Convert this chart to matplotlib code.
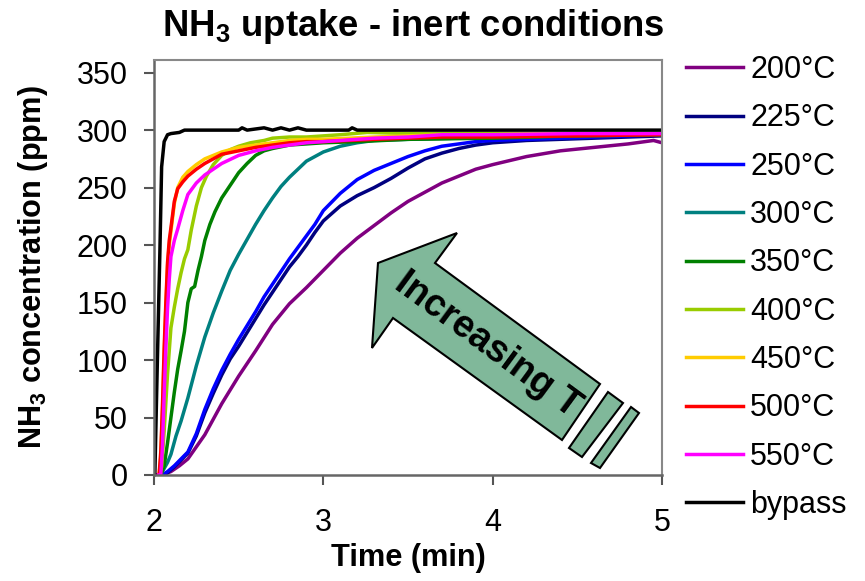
import matplotlib
matplotlib.use("Agg")
import matplotlib.pyplot as plt
from matplotlib import font_manager
from matplotlib.patches import Polygon
from matplotlib.transforms import Affine2D, IdentityTransform
import numpy as np

# --- data (time in min, NH3 in ppm) ---
t_200 = [2.00, 2.05, 2.10, 2.15, 2.20, 2.30, 2.40, 2.50, 2.60, 2.70, 2.80, 2.90, 3.00, 3.10,
         3.20, 3.30, 3.40, 3.50, 3.60, 3.70, 3.80, 3.90, 4.00, 4.20, 4.40, 4.60, 4.80, 4.95, 5.00]
c_200 = [0, 0, 3, 8, 14, 35, 62, 86, 108, 131, 149, 163, 178, 193,
         206, 217, 228, 238, 246, 254, 260, 266, 270, 277, 282, 285, 288, 291, 289]

t_225 = [2.00, 2.05, 2.08, 2.12, 2.16, 2.20, 2.25, 2.30, 2.35, 2.40, 2.45, 2.50, 2.55, 2.60,
         2.65, 2.70, 2.75, 2.80, 2.85, 2.90, 2.95, 3.00, 3.10, 3.20, 3.30, 3.40, 3.50, 3.60,
         3.70, 3.80, 3.90, 4.00, 4.20, 4.40, 4.60, 4.80, 5.00]
c_225 = [0, 0, 2, 7, 13, 19, 34, 54, 71, 87, 101, 112, 124, 136,
         148, 159, 170, 181, 190, 200, 211, 221, 234, 243, 250, 258, 267, 275,
         280, 284, 287, 289, 291, 292, 293, 294, 295]

t_250 = [2.00, 2.05, 2.08, 2.12, 2.16, 2.20, 2.25, 2.30, 2.35, 2.40, 2.45, 2.50, 2.55, 2.60,
         2.65, 2.70, 2.75, 2.80, 2.85, 2.90, 2.95, 3.00, 3.10, 3.20, 3.30, 3.40, 3.50, 3.60,
         3.70, 3.80, 3.90, 4.00, 4.20, 4.40, 4.60, 4.80, 5.00]
c_250 = [0, 0, 3, 8, 14, 20, 36, 57, 75, 91, 105, 118, 130, 142,
         155, 166, 177, 188, 198, 208, 218, 230, 245, 257, 265, 271, 277, 282,
         286, 288, 290, 291, 292, 293, 294, 295, 296]

t_300 = [2.00, 2.03, 2.05, 2.08, 2.10, 2.13, 2.16, 2.20, 2.25, 2.30, 2.35, 2.40, 2.45, 2.50,
         2.55, 2.60, 2.65, 2.70, 2.75, 2.80, 2.85, 2.90, 2.95, 3.00, 3.10, 3.20, 3.30, 3.50,
         3.80, 4.00, 4.50, 5.00]
c_300 = [0, 0, 3, 11, 18, 34, 47, 67, 95, 120, 141, 160, 178, 192,
         205, 218, 230, 241, 251, 259, 266, 273, 277, 281, 286, 289, 291, 292,
         293, 294, 295, 296]

t_350 = [2.00, 2.04, 2.06, 2.08, 2.10, 2.12, 2.14, 2.16, 2.18, 2.20, 2.22, 2.24, 2.26, 2.28,
         2.30, 2.33, 2.36, 2.40, 2.45, 2.50, 2.55, 2.60, 2.65, 2.70, 2.80, 2.90, 3.00, 3.20,
         3.50, 4.00, 4.50, 5.00]
c_350 = [0, 0, 8, 28, 50, 72, 92, 108, 125, 150, 162, 164, 178, 190,
         204, 218, 229, 241, 252, 263, 271, 278, 282, 284, 287, 288, 289, 290,
         292, 293, 295, 296]

t_400 = [2.00, 2.03, 2.045, 2.06, 2.08, 2.10, 2.12, 2.14, 2.16, 2.18, 2.20, 2.22, 2.25, 2.28,
         2.31, 2.35, 2.40, 2.45, 2.50, 2.57, 2.65, 2.70, 2.80, 2.90, 3.00, 3.10, 3.26, 3.50,
         4.00, 4.50, 5.00]
c_400 = [0, 0, 7, 38, 88, 128, 146, 162, 176, 188, 196, 213, 234, 250,
         260, 270, 278, 283, 286, 289, 291, 293, 294, 294, 295, 296, 298, 297,
         297, 297, 297]

t_450 = [2.00, 2.03, 2.04, 2.05, 2.06, 2.07, 2.08, 2.09, 2.10, 2.12, 2.14, 2.17, 2.20, 2.25,
         2.30, 2.40, 2.50, 2.60, 2.70, 2.80, 2.90, 3.00, 3.30, 3.70, 4.00, 4.50, 5.00]
c_450 = [0, 0, 15, 55, 105, 145, 182, 200, 212, 236, 250, 259, 264, 270,
         275, 281, 285, 287, 289, 291, 292, 292, 294, 296, 296, 297, 297]

t_500 = [2.00, 2.03, 2.04, 2.05, 2.06, 2.07, 2.08, 2.09, 2.10, 2.12, 2.14, 2.17, 2.20, 2.25,
         2.30, 2.40, 2.50, 2.60, 2.70, 2.80, 2.90, 3.00, 3.30, 3.70, 4.00, 4.50, 5.00]
c_500 = [0, 0, 20, 60, 110, 150, 185, 204, 215, 238, 249, 255, 260, 266,
         271, 279, 282, 285, 287, 289, 290, 290, 292, 294, 294, 295, 296]

t_550 = [2.00, 2.04, 2.05, 2.06, 2.07, 2.08, 2.09, 2.10, 2.12, 2.14, 2.17, 2.20, 2.25, 2.30,
         2.40, 2.50, 2.60, 2.70, 2.80, 2.90, 3.00, 3.10, 3.30, 3.50, 3.70, 4.00, 4.50, 5.00]
c_550 = [0, 0, 25, 70, 110, 145, 170, 190, 204, 214, 230, 244, 254, 261,
         271, 278, 282, 285, 287, 289, 290, 291, 293, 294, 296, 296, 297, 297]

t_bypass = [2.00, 2.005, 2.02, 2.035, 2.045, 2.06, 2.08, 2.10, 2.15, 2.18, 2.50, 2.52, 2.55,
            2.65, 2.70, 2.75, 2.80, 2.85, 2.90, 3.15, 3.17, 3.20, 5.00]
c_bypass = [0, 0, 100, 196, 268, 290, 296, 297, 298, 300, 300, 302, 300,
            302, 300, 302, 300, 302, 300, 300, 302, 300, 300]

labels = ["200°C", "225°C", "250°C", "300°C", "350°C", "400°C", "450°C", "500°C", "550°C", "bypass"]
colors = ["#800080", "#000080", "#0000FF", "#008080", "#008000", "#99CC00",
          "#FFCC00", "#FF0000", "#FF00FF", "#000000"]
series = [(t_200, c_200), (t_225, c_225), (t_250, c_250), (t_300, c_300), (t_350, c_350),
          (t_400, c_400), (t_450, c_450), (t_500, c_500), (t_550, c_550), (t_bypass, c_bypass)]

# fonts: narrow bold for title / axis labels if it exists
names = {f.name for f in font_manager.fontManager.ttflist}
base = "Liberation Sans" if "Liberation Sans" in names else "DejaVu Sans"
narrow = "Liberation Sans Narrow" if "Liberation Sans Narrow" in names else base
narrow_scale = 1.0 if narrow != base else 0.82

plt.rcParams["font.family"] = [base, "DejaVu Sans"]
plt.rcParams["mathtext.default"] = "regular"

fig = plt.figure(figsize=(8.65, 5.81), dpi=100)
ax = fig.add_axes([154 / 865, 1 - 475 / 581, 508 / 865, 415 / 581])

for (t, c), lab, col in zip(series, labels, colors):
    ax.plot(t, c, color=col, lw=2.5, label=lab, solid_joinstyle="round")

ax.set_xlim(2, 5)
ax.set_ylim(0, 361)
ax.set_xticks([2, 3, 4, 5])
ax.set_yticks(np.arange(0, 351, 50))
ax.tick_params(direction="out", length=7, width=1.5, colors="#555555", labelcolor="black",
               labelsize=22)
ax.tick_params(axis="x", pad=17)
ax.tick_params(axis="y", pad=12)
for side in ["left", "bottom"]:
    ax.spines[side].set_color("#666666")
    ax.spines[side].set_linewidth(1.8)
for side in ["top", "right"]:
    ax.spines[side].set_color("#888888")
    ax.spines[side].set_linewidth(1.5)

ax.set_xlabel("Time (min)", family=narrow, weight="bold", fontsize=27 * narrow_scale)
ax.xaxis.set_label_coords(0.5, -0.165)
ax.set_ylabel("NH$_3$ concentration (ppm)", family=narrow, weight="bold",
              fontsize=27 * narrow_scale)
ax.yaxis.set_label_coords(-0.205, 0.5)

fig.text(413 / 865, 1 - 27 / 581, "NH$_3$ uptake - inert conditions", family=narrow,
         weight="bold", fontsize=32 * narrow_scale, ha="center", va="center")

fig.legend(loc="upper left", bbox_to_anchor=(686 / 865, 1 - 55 / 581), frameon=False,
           fontsize=22, handlelength=1.85, handletextpad=0.25, labelspacing=0.6,
           borderpad=0, borderaxespad=0)

# "Increasing T" block arrow, drawn in image pixel coordinates (origin top left)
px = Affine2D().scale(1, -1).translate(0, 581) + IdentityTransform()
arrow = [(378, 263), (457, 233), (435, 263), (600, 384), (562, 440), (393, 318), (372, 348)]
stripe1 = [(608, 392), (623, 403), (582, 457), (569, 448)]
stripe2 = [(631, 407), (639, 413), (600, 468), (591, 463)]
for pts in (arrow, stripe1, stripe2):
    fig.patches.append(Polygon(pts, closed=True, facecolor="#80B89A", edgecolor="black",
                               lw=1.5, transform=px, zorder=5))
fig.text(488, 345, "Increasing T", transform=px, rotation=-36.3, rotation_mode="anchor",
         ha="center", va="center", fontsize=27, weight="bold", zorder=6)

fig.savefig("out.png", dpi=100)
